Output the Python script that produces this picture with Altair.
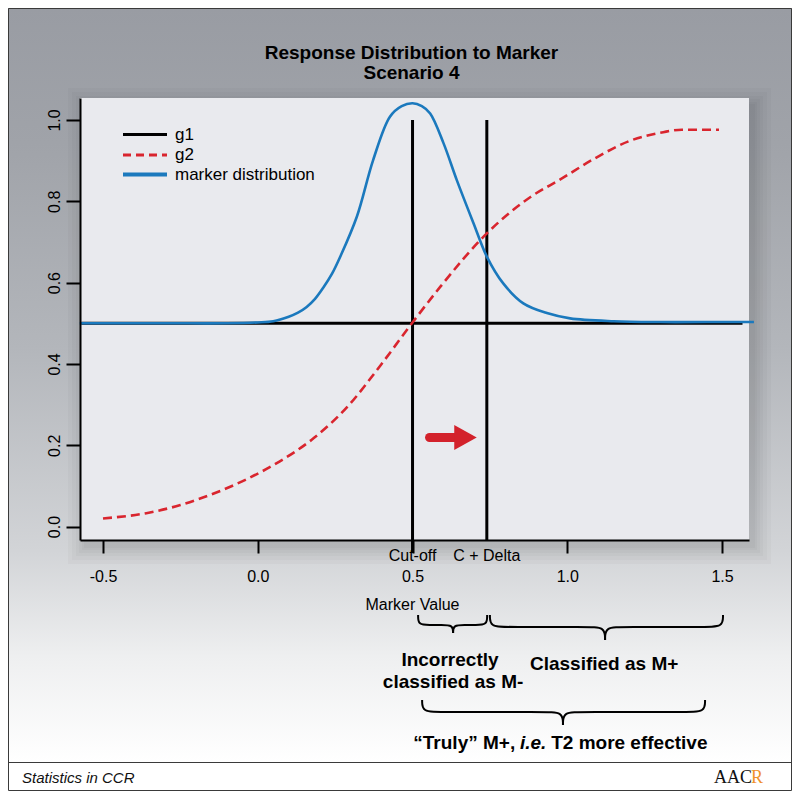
import altair as alt
import pandas as pd

# ---------------- values ----------------
marker_x = [-0.575, -0.30, -0.10, 0.00, 0.05, 0.10, 0.13, 0.158, 0.185, 0.212, 0.240, 0.266,
            0.320, 0.373, 0.427, 0.465, 0.500, 0.530, 0.557, 0.600, 0.643, 0.697, 0.740,
            0.793, 0.858, 0.934, 1.009, 1.150, 1.300, 1.450, 1.603]
marker_y = [0.500, 0.500, 0.500, 0.502, 0.505, 0.516, 0.526, 0.540, 0.560, 0.588, 0.622, 0.663,
            0.762, 0.902, 1.008, 1.034, 1.041, 1.034, 1.016, 0.943, 0.852, 0.746, 0.664,
            0.598, 0.549, 0.525, 0.512, 0.505, 0.503, 0.503, 0.503]

g2_x = [-0.50, -0.36, -0.25, -0.14, -0.04, 0.07, 0.18, 0.29, 0.40, 0.50, 0.59, 0.74,
        0.88, 0.98, 1.09, 1.20, 1.31, 1.37, 1.49]
g2_y = [0.020, 0.033, 0.053, 0.082, 0.115, 0.160, 0.217, 0.295, 0.400, 0.502, 0.590, 0.721,
        0.810, 0.855, 0.906, 0.948, 0.970, 0.976, 0.976]

g1_level = 0.5
g1_x = [-0.57, 1.566]
cut_off = 0.5
c_delta = 0.74
vline_top = 1.0

x_ticks = [-0.5, 0.0, 0.5, 1.0, 1.5]
x_tick_labels = ["-0.5", "0.0", "0.5", "1.0", "1.5"]
y_ticks = [0.0, 0.2, 0.4, 0.6, 0.8, 1.0]
y_tick_labels = ["0.0", "0.2", "0.4", "0.6", "0.8", "1.0"]

title_lines = ["Response Distribution to Marker", "Scenario 4"]
legend_labels = ["g1", "g2", "marker distribution"]
cut_labels = ["Cut-off", "C + Delta"]
x_title = "Marker Value"

# arrow (data units)
arrow_x = [0.555, 0.66]
arrow_head_x = 0.667
arrow_y = 0.219

# braces: left, tip, right (data units)
brace_spans = [(0.518, 0.631, 0.741), (0.750, 1.122, 1.503), (0.531, 0.986, 1.445)]
label_incorrect = ["Incorrectly", "classified as M-"]
label_classified = "Classified as M+"
truly_parts = ["\u201cTruly\u201d M+,", "i.e.", "T2 more effective"]
footer_left = "Statistics in CCR"
logo_parts = ["AAC", "R"]

# ---------------- geometry / style ----------------
W, H = 669, 442
X_DOM = [-0.5743, 1.587]
Y_DOM = [-0.033, 1.054]
FONT = "Liberation Sans"
BLUE = "#1b79bd"
RED = "#d9252e"

xs = alt.Scale(domain=X_DOM, nice=False, zero=False)
ys = alt.Scale(domain=Y_DOM, nice=False, zero=False)

one = pd.DataFrame({"a": [0]})


def px_rect(x, x2, y, y2, **kw):
    return alt.Chart(one).mark_rect(**kw).encode(
        x=alt.value(x), x2=alt.value(x2), y=alt.value(y), y2=alt.value(y2))


def px_text(txt, x, y, font=FONT, **kw):
    return alt.Chart(pd.DataFrame({"t": [txt]})).mark_text(font=font, **kw).encode(
        x=alt.value(x), y=alt.value(y), text="t:N")


def XQ(f="x"):
    return alt.X(f"{f}:Q", scale=xs)


def YQ(f="y"):
    return alt.Y(f"{f}:Q", scale=ys)


x_label_expr = "+".join(
    f"(abs(datum.value - ({v})) < 1e-6 ? '{l}' : '')" for v, l in zip(x_ticks, x_tick_labels))
y_label_expr = "+".join(
    f"(abs(datum.value - ({v})) < 1e-6 ? '{l}' : '')" for v, l in zip(y_ticks, y_tick_labels))

x_axis = alt.Axis(values=x_ticks, labelExpr=x_label_expr, title=None, grid=False, zindex=2,
                  domainColor="black", domainWidth=2, tickColor="black",
                  tickWidth=2, tickSize=13, labelFont=FONT, labelFontSize=16,
                  labelColor="black", labelPadding=15)
y_axis = alt.Axis(values=y_ticks, labelExpr=y_label_expr, title=None, grid=False, zindex=2,
                  domainColor="black", domainWidth=2, tickColor="black",
                  tickWidth=2, tickSize=14, labelFont=FONT, labelFontSize=16,
                  labelColor="black", labelAngle=270, labelAlign="center",
                  labelBaseline="bottom", labelPadding=4)

layers = []

# page background gradient
layers.append(px_rect(-72, 712, -90, 664,
                      fill=alt.LinearGradient(gradient="linear", x1=0, x2=0, y1=0, y2=1,
                                              stops=[alt.GradientStop(color="#999ca3", offset=0),
                                                     alt.GradientStop(color="#a0a3a9", offset=0.18),
                                                     alt.GradientStop(color="#b3b6bb", offset=0.45),
                                                     alt.GradientStop(color="#d2d4d7", offset=0.72),
                                                     alt.GradientStop(color="#eeeff0", offset=0.86),
                                                     alt.GradientStop(color="#ffffff", offset=1.0)])))
# panel shadow (soft, mostly right / below)
for s in [18, 14, 10, 7, 4, 2]:
    layers.append(px_rect(-s + 6, W + s + 4, -s + 8, H + s + 6, fill="black", opacity=0.025))
# panel
layers.append(px_rect(0, W, 0, H, fill="#e9eaee"))
# frame and footer separator
layers.append(px_rect(-71.5, 711.5, -89.5, 692.5, fill="transparent", stroke="#3a3a3a", strokeWidth=1))
layers.append(alt.Chart(one).mark_rule(color="#3a3a3a", strokeWidth=1).encode(
    x=alt.value(-71.5), x2=alt.value(711.5), y=alt.value(664.5)))

# marker distribution line carries the axes
m_df = pd.DataFrame({"x": marker_x, "y": marker_y})
axis_layer = alt.Chart(m_df).mark_line(color=BLUE, strokeWidth=2.6, interpolate="catmull-rom").encode(
    x=alt.X("x:Q", scale=xs, axis=x_axis), y=alt.Y("y:Q", scale=ys, axis=y_axis))

# g1 horizontal
g1_df = pd.DataFrame({"x": g1_x, "y": [g1_level] * len(g1_x)})
layers.append(alt.Chart(g1_df).mark_line(color="black", strokeWidth=3).encode(x=XQ(), y=YQ()))

# vertical g1 lines
vl_df = pd.DataFrame({"x": [cut_off], "y": [vline_top]})
layers.append(alt.Chart(vl_df).mark_rule(color="black", strokeWidth=3).encode(
    x=XQ(), y=YQ(), y2=alt.value(H + 13)))
vl2_df = pd.DataFrame({"x": [c_delta], "y": [vline_top]})
layers.append(alt.Chart(vl2_df).mark_rule(color="black", strokeWidth=3).encode(
    x=XQ(), y=YQ(), y2=alt.value(H)))

# g2 dashed
g2_df = pd.DataFrame({"x": g2_x, "y": g2_y})
layers.append(alt.Chart(g2_df).mark_line(color=RED, strokeWidth=2.6, strokeDash=[9, 5],
                                         interpolate="monotone").encode(x=XQ(), y=YQ()))

layers.append(axis_layer)

# arrow
a_df = pd.DataFrame({"x": [arrow_x[0]], "x2": [arrow_x[1]], "y": [arrow_y]})
layers.append(alt.Chart(a_df).mark_rule(color="#d3222b", strokeWidth=9, strokeCap="round").encode(
    x=XQ(), x2="x2:Q", y=YQ()))
ah_df = pd.DataFrame({"x": [arrow_head_x], "y": [arrow_y]})
layers.append(alt.Chart(ah_df).mark_point(shape="M-0.8,-1L1,0L-0.8,1Z", filled=True, size=625,
                                          color="#d3222b", opacity=1).encode(x=XQ(), y=YQ()))

# legend (manual)
leg_y = [36.5, 57, 76.5]
layers.append(alt.Chart(one).mark_rule(color="black", strokeWidth=3).encode(
    x=alt.value(43), x2=alt.value(87), y=alt.value(leg_y[0])))
layers.append(alt.Chart(one).mark_rule(color=RED, strokeWidth=3, strokeDash=[8, 5]).encode(
    x=alt.value(43), x2=alt.value(87), y=alt.value(leg_y[1])))
layers.append(alt.Chart(one).mark_rule(color=BLUE, strokeWidth=4).encode(
    x=alt.value(43), x2=alt.value(87), y=alt.value(leg_y[2])))
for lab, yy in zip(legend_labels, leg_y):
    layers.append(px_text(lab, 95, yy, fontSize=17, align="left", baseline="middle", color="black"))

# title
layers.append(px_text(title_lines[0], W / 2 - 3, -45, fontSize=19, fontWeight="bold", align="center",
                      baseline="middle", color="black"))
layers.append(px_text(title_lines[1], W / 2 - 3, -25, fontSize=19, fontWeight="bold", align="center",
                      baseline="middle", color="black"))

# cut-off labels
cl_df = pd.DataFrame({"x": [cut_off, c_delta], "t": cut_labels})
layers.append(alt.Chart(cl_df).mark_text(font=FONT, fontSize=16, color="black", baseline="middle").encode(
    x=XQ(), y=alt.value(H + 16), text="t:N"))
layers.append(px_text(x_title, W / 2 - 2, 507, fontSize=16, align="center", baseline="middle", color="black"))

# braces
brace_y = [(517, 527, 535), (517, 529, 542), (602, 614, 627)]
rows = []
for bi, ((xl, xt, xr), (yt, yf, yp)) in enumerate(zip(brace_spans, brace_y)):
    r = min(0.06, (xt - xl) / 3)
    left = [(xl, yt), (xl, yf), (xl + r, yf), (xt - r, yf), (xt, yf), (xt, yp)]
    right = [(xt, yp), (xt, yf), (xt + r, yf), (xr - r, yf), (xr, yf), (xr, yt)]
    for hi, pts in enumerate([left, right]):
        for oi, (px_, py_) in enumerate(pts):
            rows.append({"g": f"{bi}-{hi}", "o": oi, "x": px_, "py": py_})
br_df = pd.DataFrame(rows)
layers.append(alt.Chart(br_df).mark_line(color="black", strokeWidth=2, interpolate="basis").encode(
    x=XQ(), y=alt.Y("py:Q", scale=None), detail="g:N", order="o:Q"))

# brace labels
bl_df = pd.DataFrame({"x": [0.621, 0.631], "py": [562, 584], "t": label_incorrect})
layers.append(alt.Chart(bl_df).mark_text(font=FONT, fontSize=19, fontWeight="bold", color="black",
                                         baseline="middle").encode(
    x=XQ(), y=alt.Y("py:Q", scale=None), text="t:N"))
layers.append(alt.Chart(pd.DataFrame({"x": [1.119], "t": [label_classified]})).mark_text(
    font=FONT, fontSize=19, fontWeight="bold", color="black", baseline="middle").encode(
    x=XQ(), y=alt.value(566), text="t:N"))
tx = 0.977
ty = 645
layers.append(alt.Chart(pd.DataFrame({"x": [tx], "t": [truly_parts[0]]})).mark_text(
    font=FONT, fontSize=19, fontWeight="bold", color="black", baseline="middle", align="right", dx=-45).encode(
    x=XQ(), y=alt.value(ty), text="t:N"))
layers.append(alt.Chart(pd.DataFrame({"x": [tx], "t": [truly_parts[1]]})).mark_text(
    font=FONT, fontSize=19, fontWeight="bold", fontStyle="italic", color="black", baseline="middle",
    align="center", dx=-27).encode(
    x=XQ(), y=alt.value(ty), text="t:N"))
layers.append(alt.Chart(pd.DataFrame({"x": [tx], "t": [truly_parts[2]]})).mark_text(
    font=FONT, fontSize=19, fontWeight="bold", color="black", baseline="middle", align="left", dx=-9).encode(
    x=XQ(), y=alt.value(ty), text="t:N"))

# footer
layers.append(px_text(footer_left, -58, 680, fontSize=15, fontStyle="italic", align="left",
                      baseline="middle", color="#111111"))
layers.append(px_text(logo_parts[0], 672, 680, font="Liberation Serif", fontSize=18, align="right",
                      baseline="middle", color="#111111"))
layers.append(px_text(logo_parts[1], 671, 680, font="Liberation Serif", fontSize=18, align="left",
                      baseline="middle", color="#f0922b"))

chart = alt.layer(*layers).properties(
    width=W, height=H,
    autosize=alt.AutoSizeParams(type="none"),
    padding={"left": 72, "top": 90, "right": 43, "bottom": 251},
    background="white",
).configure_view(stroke=None)

chart.save("out.html", embed_options={"renderer": "svg", "actions": False})
